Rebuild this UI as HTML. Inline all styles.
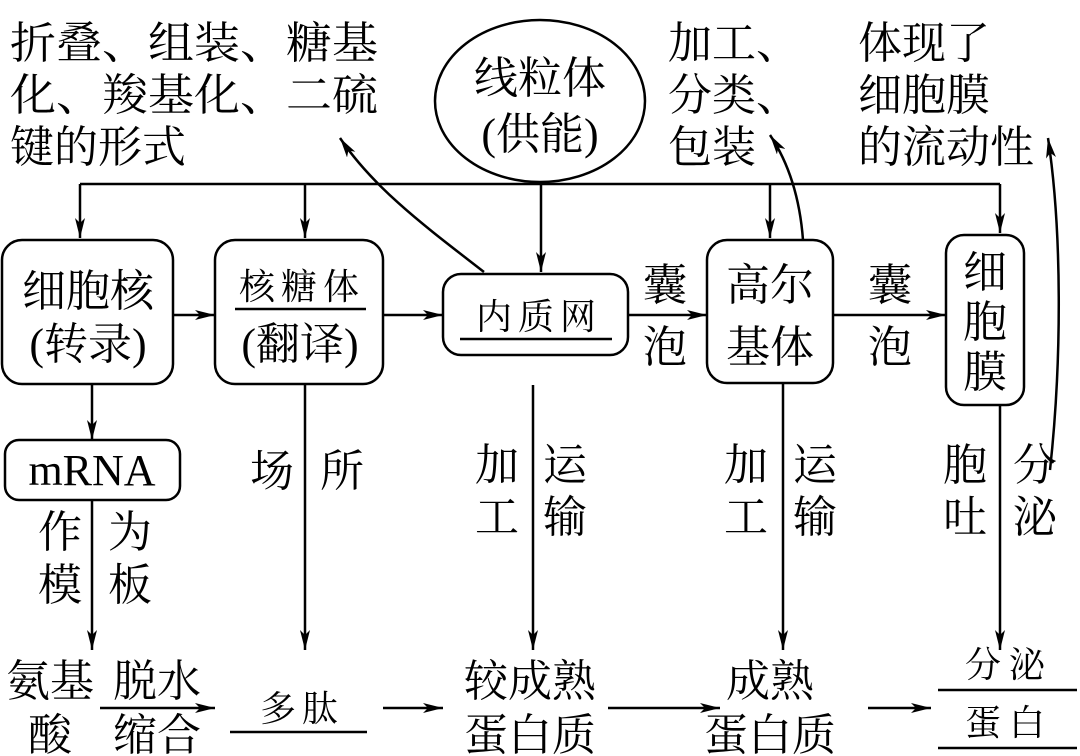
<!DOCTYPE html>
<html><head><meta charset="utf-8"><style>
html,body{margin:0;padding:0;background:#fff}
svg{display:block}
text{font-family:"Liberation Serif","Noto Serif CJK SC",serif;font-size:44px;fill:#000}
.t{font-size:36px}
</style></head><body>
<svg width="1080" height="756" viewBox="0 0 1080 756" xmlns="http://www.w3.org/2000/svg">
<defs><marker id="a" viewBox="0 0 20 10" refX="20" refY="5" markerWidth="20" markerHeight="10" markerUnits="userSpaceOnUse" orient="auto"><path d="M0,0 L20,5 L0,10 L5,5 Z" fill="#000"/></marker></defs>
<g stroke="#000" stroke-width="2.5" fill="none">
<ellipse cx="540" cy="101" rx="105" ry="81"/>
<line x1="80" y1="184" x2="1000" y2="184"/>
<line x1="80" y1="184" x2="80" y2="238" marker-end="url(#a)"/>
<line x1="305" y1="184" x2="305" y2="238" marker-end="url(#a)"/>
<line x1="541" y1="182" x2="541" y2="272" marker-end="url(#a)"/>
<line x1="770" y1="184" x2="770" y2="238" marker-end="url(#a)"/>
<line x1="1000" y1="184" x2="1000" y2="233" marker-end="url(#a)"/>
<rect x="2" y="240" width="171" height="144" rx="20"/>
<rect x="215" y="240" width="168" height="144" rx="20"/>
<rect x="443" y="274" width="185" height="81" rx="18"/>
<rect x="707" y="240" width="126" height="143" rx="20"/>
<rect x="946" y="235" width="78" height="170" rx="18"/>
<rect x="5" y="440" width="175" height="60" rx="14"/>
<line x1="173" y1="315" x2="215" y2="315" marker-end="url(#a)"/>
<line x1="383" y1="315" x2="443" y2="315" marker-end="url(#a)"/>
<line x1="628" y1="315" x2="707" y2="315" marker-end="url(#a)"/>
<line x1="833" y1="315" x2="946" y2="315" marker-end="url(#a)"/>
<line x1="235" y1="309" x2="366" y2="309"/>
<line x1="460" y1="339" x2="612" y2="339"/>
<path d="M484,272 C430,230 375,190 340,138" marker-end="url(#a)"/>
<path d="M803,240 C800,200 790,165 770,135" marker-end="url(#a)"/>
<path d="M1050,470 C1062,360 1062,230 1048,138" marker-end="url(#a)"/>
<line x1="92" y1="384" x2="92" y2="440" marker-end="url(#a)"/>
<line x1="92" y1="500" x2="92" y2="650" marker-end="url(#a)"/>
<line x1="305" y1="384" x2="305" y2="650" marker-end="url(#a)"/>
<line x1="533" y1="385" x2="533" y2="650" marker-end="url(#a)"/>
<line x1="783" y1="383" x2="783" y2="650" marker-end="url(#a)"/>
<line x1="1000" y1="405" x2="1000" y2="650" marker-end="url(#a)"/>
<line x1="100" y1="708" x2="215" y2="708" marker-end="url(#a)"/>
<line x1="383" y1="708" x2="443" y2="708" marker-end="url(#a)"/>
<line x1="608" y1="708" x2="720" y2="708" marker-end="url(#a)"/>
<line x1="868" y1="708" x2="931" y2="708" marker-end="url(#a)"/>
<line x1="230" y1="732" x2="367" y2="732"/>
<line x1="938" y1="690" x2="1077" y2="690"/>
<line x1="938" y1="748" x2="1077" y2="748"/>
</g>
<text x="10" y="58" textLength="368" lengthAdjust="spacingAndGlyphs">折叠、组装、糖基</text>
<text x="10" y="110" textLength="368" lengthAdjust="spacingAndGlyphs">化、羧基化、二硫</text>
<text x="10" y="162">键的形式</text>
<text x="540" y="93" text-anchor="middle">线粒体</text>
<text x="540" y="149" text-anchor="middle">(供能)</text>
<text x="668" y="58">加工、</text>
<text x="668" y="110">分类、</text>
<text x="668" y="162">包装</text>
<text x="858" y="58">体现了</text>
<text x="858" y="110">细胞膜</text>
<text x="858" y="162">的流动性</text>
<text x="88" y="306" text-anchor="middle">细胞核</text>
<text x="88" y="359" text-anchor="middle">(转录)</text>
<text class="t" x="302" y="299" text-anchor="middle" letter-spacing="6">核糖体</text>
<text x="300" y="359" text-anchor="middle">(翻译)</text>
<text class="t" x="539" y="329" text-anchor="middle" letter-spacing="6">内质网</text>
<text x="665" y="300" text-anchor="middle">囊</text>
<text x="665" y="362" text-anchor="middle">泡</text>
<text x="890" y="300" text-anchor="middle">囊</text>
<text x="890" y="362" text-anchor="middle">泡</text>
<text x="770" y="300" text-anchor="middle">高尔</text>
<text x="770" y="362" text-anchor="middle">基体</text>
<text x="985" y="287" text-anchor="middle">细</text>
<text x="985" y="337" text-anchor="middle">胞</text>
<text x="985" y="387" text-anchor="middle">膜</text>
<text x="92" y="485" text-anchor="middle">mRNA</text>
<text x="60" y="547" text-anchor="middle">作</text>
<text x="60" y="600" text-anchor="middle">模</text>
<text x="130" y="547" text-anchor="middle">为</text>
<text x="130" y="600" text-anchor="middle">板</text>
<text x="272" y="486" text-anchor="middle">场</text>
<text x="342" y="486" text-anchor="middle">所</text>
<text x="497" y="480" text-anchor="middle">加</text>
<text x="497" y="532" text-anchor="middle">工</text>
<text x="565" y="480" text-anchor="middle">运</text>
<text x="565" y="532" text-anchor="middle">输</text>
<text x="746" y="480" text-anchor="middle">加</text>
<text x="746" y="532" text-anchor="middle">工</text>
<text x="815" y="480" text-anchor="middle">运</text>
<text x="815" y="532" text-anchor="middle">输</text>
<text x="965" y="480" text-anchor="middle">胞</text>
<text x="965" y="532" text-anchor="middle">吐</text>
<text x="1035" y="480" text-anchor="middle">分</text>
<text x="1035" y="532" text-anchor="middle">泌</text>
<text x="50" y="696" text-anchor="middle">氨基</text>
<text x="50" y="750" text-anchor="middle">酸</text>
<text x="157" y="696" text-anchor="middle">脱水</text>
<text x="157" y="750" text-anchor="middle">缩合</text>
<text class="t" x="302" y="721" text-anchor="middle" letter-spacing="6">多肽</text>
<text x="530" y="696" text-anchor="middle">较成熟</text>
<text x="530" y="750" text-anchor="middle">蛋白质</text>
<text x="770" y="696" text-anchor="middle">成熟</text>
<text x="770" y="750" text-anchor="middle">蛋白质</text>
<text class="t" x="1009" y="677" text-anchor="middle" letter-spacing="8">分泌</text>
<text class="t" x="1009" y="735" text-anchor="middle" letter-spacing="8">蛋白</text>
</svg>
</body></html>
